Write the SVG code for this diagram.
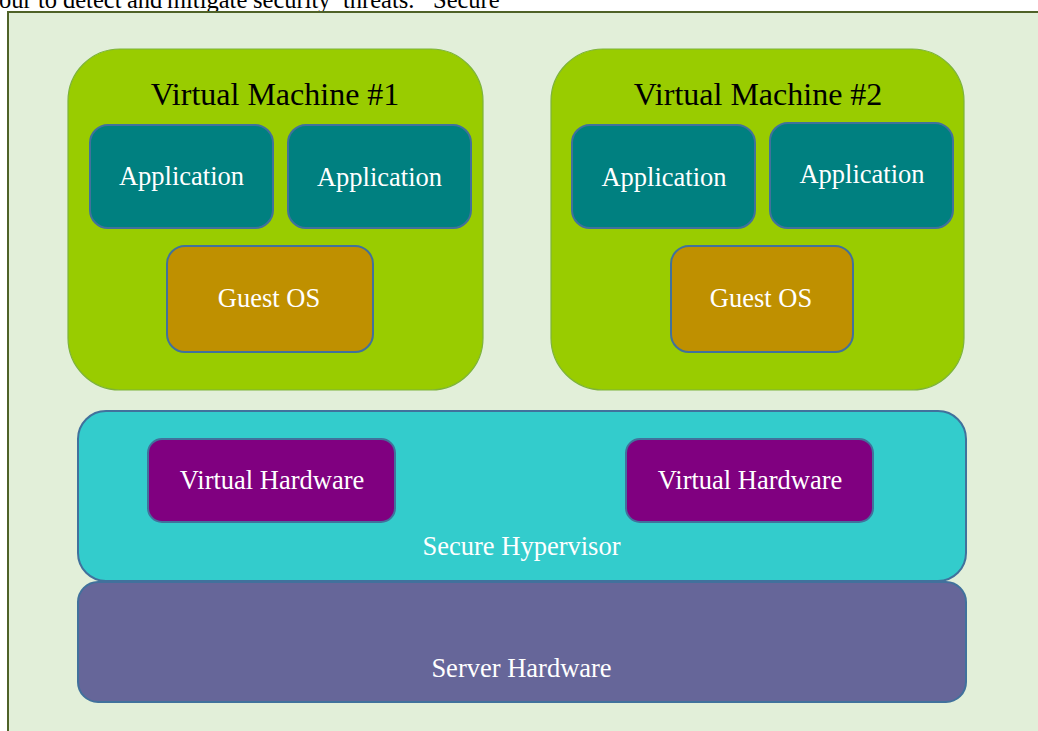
<svg xmlns="http://www.w3.org/2000/svg" width="1038" height="731" viewBox="0 0 1038 731">
<style>
  .top { font-family: "Liberation Serif", "DejaVu Serif", serif; font-size: 24.5px; fill: #000; }
  .vm { fill: #99cc00; stroke: #7db33a; stroke-width: 1.2; }
  .vmt { font-family: "Liberation Serif", "DejaVu Serif", serif; font-size: 32px; fill: #000; text-anchor: middle; }
  .app { fill: #008080; stroke: #41719c; stroke-width: 2; }
  .os { fill: #bf9000; stroke: #41719c; stroke-width: 2; }
  .vh { fill: #800080; stroke: #41719c; stroke-width: 2; }
  .hyp { fill: #33cccc; stroke: #41719c; stroke-width: 2; }
  .srv { fill: #666699; stroke: #41719c; stroke-width: 2; }
  .lbl { font-family: "Liberation Serif", "DejaVu Serif", serif; font-size: 26.5px; fill: #ffffff; text-anchor: middle; }
</style>
<rect x="0" y="0" width="1038" height="731" fill="#ffffff"/>
<g id="caption">
  <text class="top" x="-1" y="8">our</text>
  <text class="top" x="38" y="8">to</text>
  <text class="top" x="63" y="8">detect</text>
  <text class="top" x="127" y="8">and</text>
  <text class="top" x="167" y="8">mitigate</text>
  <text class="top" x="253" y="8">security</text>
  <text class="top" x="343" y="8">threats.</text>
  <text class="top" x="433" y="8">Secure</text>
</g>
<rect id="frame" x="8" y="12" width="1040" height="730" fill="#e2efd9" stroke="#4f6228" stroke-width="2"/>
<g id="connectors"></g>
<g id="vm1">
  <rect class="vm" x="68" y="49" width="415" height="341" rx="52" ry="52"/>
  <text class="vmt" x="275" y="105">Virtual Machine #1</text>
</g>
<g id="vm1-app1">
  <rect class="app" x="90" y="125" width="183" height="103" rx="18" ry="18"/>
  <text class="lbl" x="181.5" y="185">Application</text>
</g>
<g id="vm1-app2">
  <rect class="app" x="288" y="125" width="183" height="103" rx="18" ry="18"/>
  <text class="lbl" x="379.5" y="186">Application</text>
</g>
<g id="vm1-os">
  <rect class="os" x="167" y="246" width="206" height="106" rx="18" ry="18"/>
  <text class="lbl" x="269" y="307">Guest OS</text>
</g>
<g id="vm2">
  <rect class="vm" x="551" y="49" width="413" height="341" rx="52" ry="52"/>
  <text class="vmt" x="758" y="105">Virtual Machine #2</text>
</g>
<g id="vm2-app1">
  <rect class="app" x="572" y="125" width="183" height="103" rx="18" ry="18"/>
  <text class="lbl" x="664" y="186">Application</text>
</g>
<g id="vm2-app2">
  <rect class="app" x="770" y="123" width="183" height="105" rx="18" ry="18"/>
  <text class="lbl" x="862" y="183">Application</text>
</g>
<g id="vm2-os">
  <rect class="os" x="671" y="246" width="182" height="106" rx="18" ry="18"/>
  <text class="lbl" x="761" y="307">Guest OS</text>
</g>
<g id="hypervisor">
  <rect class="hyp" x="78" y="411" width="888" height="170" rx="28" ry="28"/>
  <text class="lbl" x="521.5" y="555">Secure Hypervisor</text>
</g>
<g id="vh1">
  <rect class="vh" x="148" y="439" width="247" height="83" rx="14" ry="14"/>
  <text class="lbl" x="272" y="489">Virtual Hardware</text>
</g>
<g id="vh2">
  <rect class="vh" x="626" y="439" width="247" height="83" rx="14" ry="14"/>
  <text class="lbl" x="750" y="489">Virtual Hardware</text>
</g>
<g id="server">
  <rect class="srv" x="78" y="582" width="888" height="120" rx="20" ry="20"/>
  <text class="lbl" x="521.5" y="677">Server Hardware</text>
</g>
</svg>
